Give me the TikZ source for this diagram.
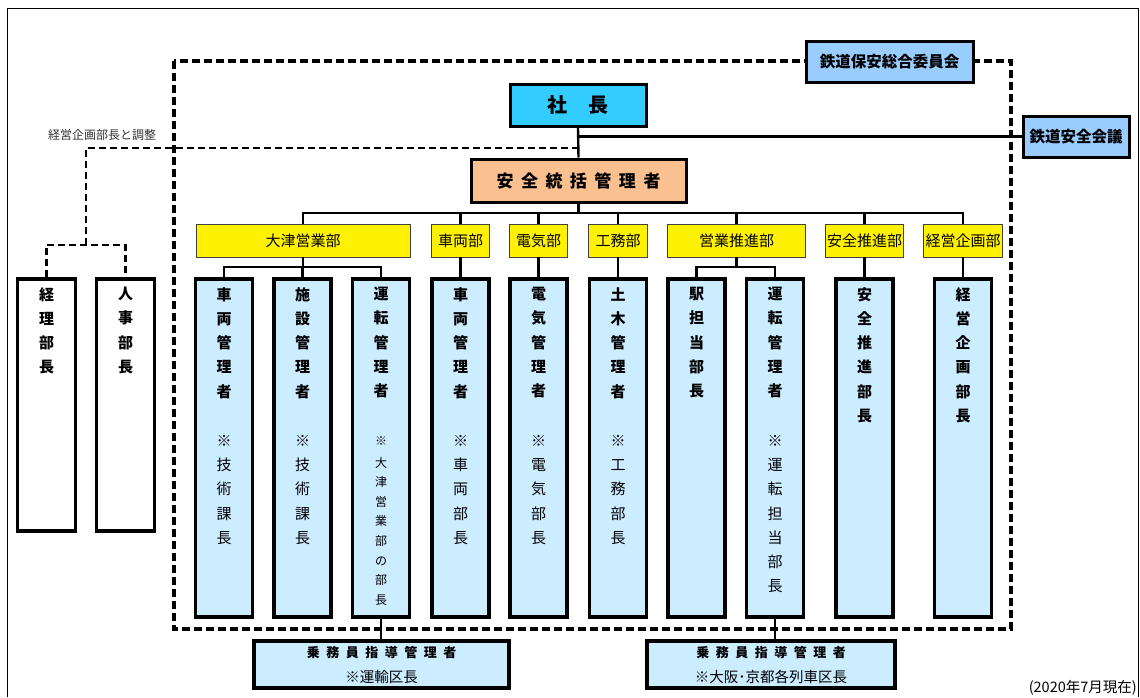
\documentclass[tikz,border=0pt]{standalone}
\usepackage{fontspec}
\setmainfont{Noto Sans CJK JP}
\usetikzlibrary{positioning}

\definecolor{presblue}{HTML}{33CCFF}
\definecolor{meetblue}{HTML}{99CCFF}
\definecolor{mgrpeach}{HTML}{FAC090}
\definecolor{postblue}{HTML}{CCECFF}

% spread the characters of a title with a fixed gap
\makeatletter
\newcommand{\spreadtxt}[2]{\def\sp@gap{#1}\@tfor\sp@c:=#2\do{\sp@c\hspace{\sp@gap}}\unskip}
\makeatother

\begin{document}
\begin{tikzpicture}[x=1pt, y=-1pt,
    every node/.style={inner sep=0pt},
    topbox/.style={rectangle, draw, line width=3pt},
    deptbox/.style={rectangle, draw=black!75, line width=0.9pt, fill=yellow, minimum height=33pt, font=\fontsize{15}{18}\selectfont},
    postbox/.style={rectangle, draw, line width=3.6pt, fill=postblue, minimum width=57pt, minimum height=338pt},
    sidebox/.style={rectangle, draw, line width=3.6pt, fill=white, minimum width=58pt, minimum height=252pt},
    postname/.style={anchor=north, align=center, font=\bfseries\fontsize{15}{24.25}\selectfont},
    postnote/.style={anchor=north, align=center, font=\fontsize{15}{24.25}\selectfont},
    crewbox/.style={rectangle, draw, line width=3.2pt, fill=postblue, minimum height=47pt},
    treeline/.style={line width=2.4pt},
    feedline/.style={line width=1.2pt},
    groupline/.style={line width=3.6pt, dash pattern=on 8pt off 4pt},
    liaison/.style={line width=2.6pt, dash pattern=on 7pt off 4pt}
]
\useasboundingbox (0,0) rectangle (1140,697);

% outer frame and safety committee boundary
\draw[line width=1pt] (7,697) -- (7,8) -- (1138,8) -- (1138,697);
\draw[groupline] (174,61) rectangle (1011,629);

% Top of the organisation
\node[topbox, fill=meetblue, minimum width=167pt, minimum height=41pt, font=\bfseries\fontsize{15.5}{18}\selectfont] (iinkai) at (889.5,61.5) {鉄道保安総合委員会};
\node[topbox, fill=presblue, minimum width=136pt, minimum height=42pt, font=\bfseries\fontsize{20}{22}\selectfont] (shacho) at (578,105) {社\hspace{21pt}長};
\node[topbox, fill=meetblue, minimum width=106pt, minimum height=41pt, font=\bfseries\fontsize{15.5}{18}\selectfont] (kaigi) at (1076,136.5) {鉄道安全会議};
\node[topbox, fill=mgrpeach, minimum width=215pt, minimum height=43pt, font=\bfseries\fontsize{17}{20}\selectfont] (sokatsu) at (578.5,180.5) {\spreadtxt{7.5pt}{安全統括管理者}};

\coordinate (bus) at (0,213);
\coordinate (subbus) at (0,267);
\coordinate (chosei) at (86,245);
\coordinate (kikaku) at (578,148);

% Departments
\node[deptbox, minimum width=214pt] (otsu) at (303,240.5) {大津営業部};
\node[deptbox, minimum width=58pt] (sharyo) at (460.5,240.5) {車両部};
\node[deptbox, minimum width=58pt] (denki) at (538.5,240.5) {電気部};
\node[deptbox, minimum width=59pt] (komu) at (618,240.5) {工務部};
\node[deptbox, minimum width=138pt] (eigyo) at (736.5,240.5) {営業推進部};
\node[deptbox, minimum width=78pt] (anzen) at (864.5,240.5) {安全推進部};
\node[deptbox, minimum width=79pt] (keiei) at (963,240.5) {経営企画部};

% Posts
\node[postbox] (p1) at (224,448) {};
\node[postname] (p1n) at (224,287) {車\\両\\管\\理\\者};
\node[postnote] (p1s) at (224,435) {※\\技\\術\\課\\長};
\node[postbox] (p2) at (302.5,448) {};
\node[postname] (p2n) at (302.5,287) {施\\設\\管\\理\\者};
\node[postnote] (p2s) at (302.5,435) {※\\技\\術\\課\\長};
\node[postbox] (p3) at (381,448) {};
\node[postname] (p3n) at (381,287) {運\\転\\管\\理\\者};
\node[postnote, font=\fontsize{12}{19.6}\selectfont] (p3s) at (381,436) {※\\[2.4pt]大\\津\\営\\業\\部\\の\\部\\長};
\node[postbox] (p4) at (460.5,448) {};
\node[postname] (p4n) at (460.5,287) {車\\両\\管\\理\\者};
\node[postnote] (p4s) at (460.5,435) {※\\車\\両\\部\\長};
\node[postbox] (p5) at (538.5,448) {};
\node[postname] (p5n) at (538.5,287) {電\\気\\管\\理\\者};
\node[postnote] (p5s) at (538.5,435) {※\\電\\気\\部\\長};
\node[postbox] (p6) at (618,448) {};
\node[postname] (p6n) at (618,287) {土\\木\\管\\理\\者};
\node[postnote] (p6s) at (618,435) {※\\工\\務\\部\\長};
\node[postbox] (p7) at (696.5,448) {};
\node[postname] (p7n) at (696.5,287) {駅\\担\\当\\部\\長};
\node[postbox] (p8) at (775,448) {};
\node[postname] (p8n) at (775,287) {運\\転\\管\\理\\者};
\node[postnote] (p8s) at (775,435) {※\\運\\転\\担\\当\\部\\長};
\node[postbox] (p9) at (864.5,448) {};
\node[postname] (p9n) at (864.5,287) {安\\全\\推\\進\\部\\長};
\node[postbox] (p10) at (963,448) {};
\node[postname] (p10n) at (963,287) {経\\営\\企\\画\\部\\長};

% Heads outside the committee
\node[sidebox] (keiri) at (46.5,405) {};
\node[postname] (keirin) at (46.5,287) {経\\理\\部\\長};
\node[sidebox] (jinji) at (125.5,405) {};
\node[postname] (jinjin) at (125.5,287) {人\\事\\部\\長};
\node[font=\fontsize{12}{14}\selectfont, text=black!80] (choseilbl) at (102,135) {経営企画部長と調整};

% Crew instructors
\node[crewbox, minimum width=255pt] (crew1) at (381.5,664.5) {};
\node[font=\bfseries\fontsize{13}{15}\selectfont] (crew1a) at (381.5,652) {\spreadtxt{6.5pt}{乗務員指導管理者}};
\node[font=\fontsize{14.5}{16}\selectfont] (crew1b) at (381.5,677) {※運輸区長};
\node[crewbox, minimum width=248pt] (crew2) at (771,664.5) {};
\node[font=\bfseries\fontsize{13}{15}\selectfont] (crew2a) at (771,652) {\spreadtxt{6.5pt}{乗務員指導管理者}};
\node[font=\fontsize{14.5}{16}\selectfont] (crew2b) at (771,677) {※大阪･京都各列車区長};

\node[font=\fontsize{14.5}{16}\selectfont, anchor=east] (asof) at (1137,688) {(2020年7月現在)};

% Lines
\draw[treeline] (shacho.south) -- (sokatsu.north);
\draw[treeline] (shacho.south |- kaigi.west) -- (kaigi.west);
\draw[treeline] (sokatsu.south) |- (otsu.north |- bus) -- (otsu.north);
\draw[treeline] (sokatsu.south) |- (sharyo.north |- bus) -- (sharyo.north);
\draw[treeline] (sokatsu.south) |- (denki.north |- bus) -- (denki.north);
\draw[treeline] (sokatsu.south) |- (komu.north |- bus) -- (komu.north);
\draw[treeline] (sokatsu.south) |- (eigyo.north |- bus) -- (eigyo.north);
\draw[treeline] (sokatsu.south) |- (anzen.north |- bus) -- (anzen.north);
\draw[treeline] (sokatsu.south) |- (keiei.north |- bus) -- (keiei.north);
\draw[treeline] (otsu.south) |- (p1.north |- subbus) -- (p1.north);
\draw[treeline] (otsu.south) |- (p2.north |- subbus) -- (p2.north);
\draw[treeline] (otsu.south) |- (p3.north |- subbus) -- (p3.north);
\draw[treeline] (sharyo.south) -- (p4.north);
\draw[treeline] (denki.south) -- (p5.north);
\draw[treeline] (komu.south) -- (p6.north);
\draw[treeline] (eigyo.south) |- (p7.north |- subbus) -- (p7.north);
\draw[treeline] (eigyo.south) |- (p8.north |- subbus) -- (p8.north);
\draw[treeline] (anzen.south) -- (p9.north);
\draw[treeline] (keiei.south) -- (p10.north);
\draw[feedline] (p3.south) -- (p3.south |- crew1.north);
\draw[feedline] (p8.south) -- (p8.south |- crew2.north);

% Liaison with the planning head
\draw[liaison] (keiri.north) |- (jinji.north |- chosei) -- (jinji.north);
\draw[liaison] (chosei) |- (kikaku);

\end{tikzpicture}
\end{document}
